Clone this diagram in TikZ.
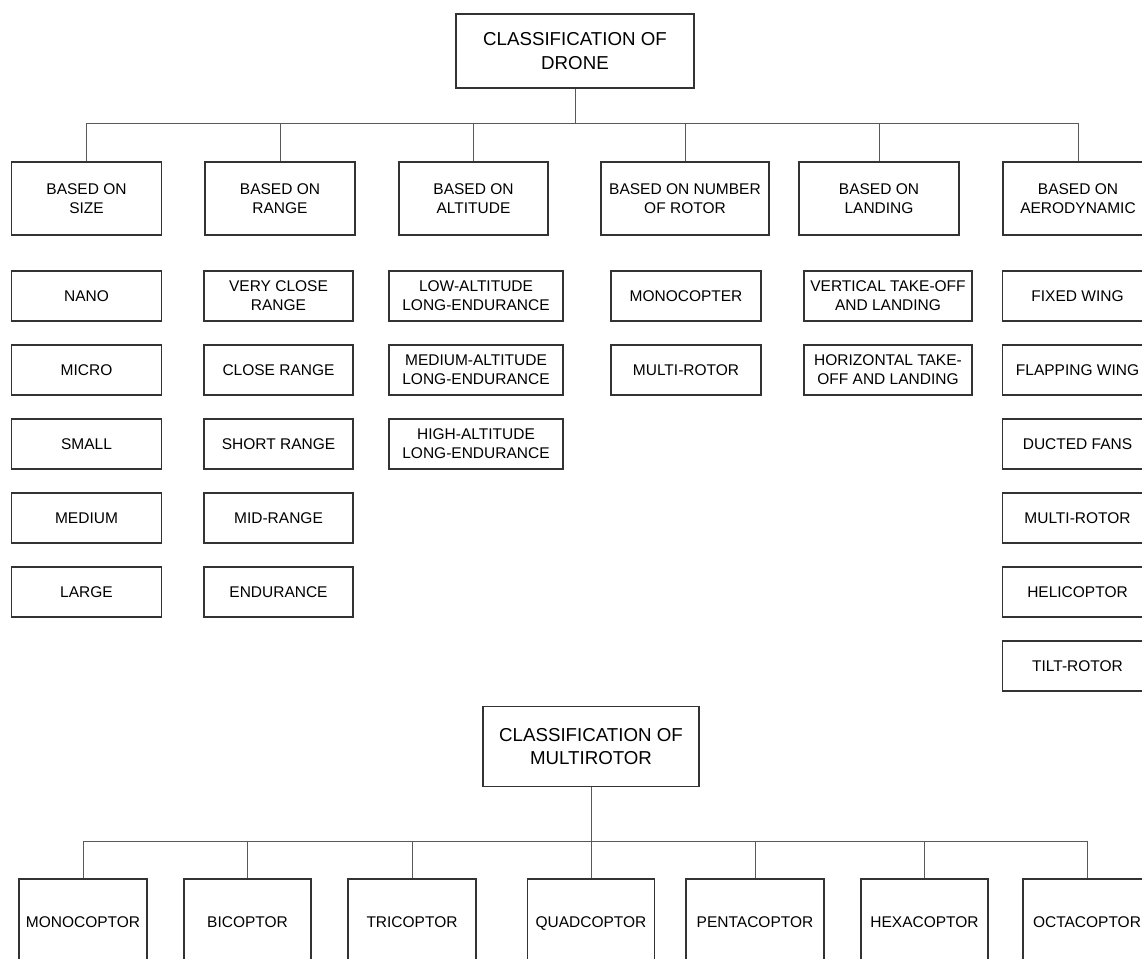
\documentclass[tikz,border=0pt]{standalone}
\usepackage{fontspec}
\setmainfont{Liberation Sans}
\usepackage{tikz}
\tikzstyle{box}=[draw=black!80, line width=1.2pt, align=center, inner sep=1pt, font=\fontsize{15.5}{19}\selectfont]
\tikzstyle{headbox}=[box, minimum height=74pt, font=\fontsize{18.7}{23.5}\selectfont]
\tikzstyle{basis}=[box, minimum height=73pt]
\tikzstyle{item}=[box, minimum height=50pt]
\tikzstyle{rotorbox}=[box, minimum height=86pt, text height=1.25em, text depth=0.25em]
\tikzstyle{link}=[draw=black!65, line width=0.9pt]

\begin{document}
\begin{tikzpicture}[x=1pt, y=-1pt]
	\clip (0,0) rectangle (1142,958);
	\fill [white] (0,0) rectangle (1142,958);
	\begin{scope}
		\node (drone) at (575, 51)[headbox, minimum width=238pt] {CLASSIFICATION OF\\DRONE};
		\node (size) at (86.5, 198.5)[basis, minimum width=150pt] {BASED ON\\SIZE};
		\node (range) at (280, 198.5)[basis, minimum width=150pt] {BASED ON\\RANGE};
		\node (alt) at (473.5, 198.5)[basis, minimum width=149pt] {BASED ON\\ALTITUDE};
		\node (rotor) at (685, 198.5)[basis, minimum width=168pt] {BASED ON NUMBER\\OF ROTOR};
		\node (landing) at (879, 198.5)[basis, minimum width=160pt] {BASED ON\\LANDING};
		\node (aero) at (1078, 198.5)[basis, minimum width=150pt] {BASED ON\\AERODYNAMIC};
	\end{scope}
	\begin{scope}
		\node (nano) at (86.5, 296)[item, minimum width=150pt] {NANO};
		\node (micro) at (86.5, 370)[item, minimum width=150pt] {MICRO};
		\node (small) at (86.5, 444)[item, minimum width=150pt] {SMALL};
		\node (medium) at (86.5, 518)[item, minimum width=150pt] {MEDIUM};
		\node (large) at (86.5, 592)[item, minimum width=150pt] {LARGE};

		\node (veryclose) at (278.5, 296)[item, minimum width=149pt] {VERY CLOSE\\RANGE};
		\node (close) at (278.5, 370)[item, minimum width=149pt] {CLOSE RANGE};
		\node (short) at (278.5, 444)[item, minimum width=149pt] {SHORT RANGE};
		\node (mid) at (278.5, 518)[item, minimum width=149pt] {MID-RANGE};
		\node (endurance) at (278.5, 592)[item, minimum width=149pt] {ENDURANCE};

		\node (lale) at (476, 296)[item, minimum width=174pt] {LOW-ALTITUDE\\LONG-ENDURANCE};
		\node (male) at (476, 370)[item, minimum width=174pt] {MEDIUM-ALTITUDE\\LONG-ENDURANCE};
		\node (hale) at (476, 444)[item, minimum width=174pt] {HIGH-ALTITUDE\\LONG-ENDURANCE};

		\node (monocopter) at (686, 296)[item, minimum width=150pt] {MONOCOPTER};
		\node (multirotor) at (686, 370)[item, minimum width=150pt] {MULTI-ROTOR};

		\node (vtol) at (888, 296)[item, minimum width=168pt] {VERTICAL TAKE-OFF\\AND LANDING};
		\node (htol) at (888, 370)[item, minimum width=168pt] {HORIZONTAL TAKE-\\OFF AND LANDING};

		\node (fixed) at (1077.5, 296)[item, minimum width=150pt] {FIXED WING};
		\node (flapping) at (1077.5, 370)[item, minimum width=150pt] {FLAPPING WING};
		\node (ducted) at (1077.5, 444)[item, minimum width=150pt] {DUCTED FANS};
		\node (multi) at (1077.5, 518)[item, minimum width=150pt] {MULTI-ROTOR};
		\node (heli) at (1077.5, 592)[item, minimum width=150pt] {HELICOPTOR};
		\node (tilt) at (1077.5, 666)[item, minimum width=150pt] {TILT-ROTOR};
	\end{scope}
	\begin{scope}
		\node (mr) at (591, 746.5)[headbox, minimum width=216pt, minimum height=80pt] {CLASSIFICATION OF\\MULTIROTOR};
		\node (mono) at (83, 922)[rotorbox, minimum width=128pt] {MONOCOPTOR};
		\node (bi) at (247.5, 922)[rotorbox, minimum width=127pt] {BICOPTOR};
		\node (tri) at (412, 922)[rotorbox, minimum width=128pt] {TRICOPTOR};
		\node (quad) at (591, 922)[rotorbox, minimum width=127pt] {QUADCOPTOR};
		\node (penta) at (755, 922)[rotorbox, minimum width=138pt] {PENTACOPTOR};
		\node (hexa) at (924.5, 922)[rotorbox, minimum width=127pt] {HEXACOPTOR};
		\node (octa) at (1087, 922)[rotorbox, minimum width=128pt] {OCTACOPTOR};
	\end{scope}
	\begin{scope}
		\coordinate (bus1) at (575, 123);
		\draw [link] (drone) -- (bus1);
		\draw [link] (bus1) -| (size.north);
		\draw [link] (bus1) -| (range.north);
		\draw [link] (bus1) -| (alt.north);
		\draw [link] (bus1) -| (rotor.north);
		\draw [link] (bus1) -| (landing.north);
		\draw [link] (bus1) -| (aero.north);
		\coordinate (bus2) at (591, 841);
		\draw [link] (mr) -- (bus2);
		\draw [link] (bus2) -| (mono.north);
		\draw [link] (bus2) -| (bi.north);
		\draw [link] (bus2) -| (tri.north);
		\draw [link] (bus2) -- (quad.north);
		\draw [link] (bus2) -| (penta.north);
		\draw [link] (bus2) -| (hexa.north);
		\draw [link] (bus2) -| (octa.north);
	\end{scope}
\end{tikzpicture}
\end{document}
